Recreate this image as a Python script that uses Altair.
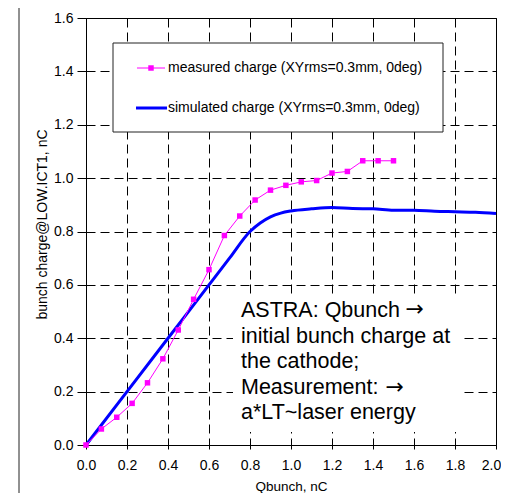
import altair as alt
import pandas as pd

# ---------------- data ----------------
meas_x = [0.0, 0.075, 0.15, 0.225, 0.3, 0.375, 0.45, 0.525, 0.6, 0.675, 0.75,
          0.825, 0.9, 0.975, 1.05, 1.125, 1.2, 1.275, 1.35, 1.425, 1.5]
meas_y = [0.0, 0.06, 0.104, 0.156, 0.233, 0.323, 0.431, 0.546, 0.657, 0.785, 0.858,
          0.918, 0.955, 0.973, 0.986, 0.991, 1.019, 1.025, 1.065, 1.065, 1.065]

sim_x = [0.0, 0.4, 0.6, 0.7, 0.8, 0.85, 0.9, 0.95, 1.0, 1.1, 1.2, 1.3, 1.4,
         1.5, 1.6, 1.7, 1.8, 1.9, 2.0]
sim_y = [0.0, 0.4, 0.6, 0.7, 0.8, 0.832, 0.855, 0.869, 0.877, 0.885, 0.890, 0.886,
         0.885, 0.880, 0.880, 0.876, 0.874, 0.872, 0.867]

x_ticks = [0.0, 0.2, 0.4, 0.6, 0.8, 1.0, 1.2, 1.4, 1.6, 1.8, 2.0]
y_ticks = [0.0, 0.2, 0.4, 0.6, 0.8, 1.0, 1.2, 1.4, 1.6]

legend_labels = ["measured charge (XYrms=0.3mm, 0deg)",
                 "simulated charge (XYrms=0.3mm, 0deg)"]
note_lines = ["ASTRA: Qbunch",
              "initial bunch charge at",
              "the cathode;",
              "Measurement:",
              "a*LT~laser energy"]
arrow = "\u2192"
x_title = "Qbunch, nC"
y_title = "bunch charge@LOW.ICT1, nC"

MAGENTA = "#FF00FF"
BLUE = "#0000FF"
FONT = "Liberation Sans"
W, H = 410, 427

meas = pd.DataFrame({"q": meas_x, "c": meas_y})
sim = pd.DataFrame({"q": sim_x, "c": sim_y})
one = pd.DataFrame({"a": [0]})

xs = alt.Scale(domain=[0, 2], nice=False, zero=False)
ys = alt.Scale(domain=[0, 1.6], nice=False, zero=False)

grid_common = dict(grid=True, gridColor="black", gridDash=[9, 5], gridWidth=1,
                   gridOpacity=1, domain=False, tickColor="black", tickWidth=1,
                   labelFont=FONT, labelFontSize=14, labelColor="black",
                   titleFont=FONT, titleFontWeight="normal", titleColor="black")

x_axis = alt.Axis(values=x_ticks, format=".1f", title=x_title, tickSize=4,
                  labelPadding=9, labelFlush=False,
                  labelOffset={"condition": {"test": "datum.value >= 1.99",
                                             "value": -5}, "value": 0},
                  titleFontSize=13.5,
                  titleY=41, titleBaseline="middle", **grid_common)
y_axis = alt.Axis(values=y_ticks, format=".1f", title=y_title, tickSize=9,
                  labelPadding=4, labelFlush=False, titleFontSize=14,
                  titleX=-44, titleY=206, titleBaseline="middle",
                  titleAlign="center", titleAngle=-90, **grid_common)

# outer frame (decoration)
frame = alt.Chart(one).mark_rect(fill=None, fillOpacity=0, stroke="#222",
                                 strokeWidth=1).encode(
    x=alt.value(-67), x2=alt.value(421), y=alt.value(-12), y2=alt.value(700))

sim_line = alt.Chart(sim).mark_line(color=BLUE, strokeWidth=3,
                                    interpolate="monotone").encode(
    x=alt.X("q:Q", scale=xs, axis=x_axis),
    y=alt.Y("c:Q", scale=ys, axis=y_axis))

meas_line = alt.Chart(meas).mark_line(color=MAGENTA, strokeWidth=1).encode(
    x=alt.X("q:Q", scale=xs), y=alt.Y("c:Q", scale=ys))
meas_pts = alt.Chart(meas).mark_point(shape="square", filled=True, size=30,
                                      color=MAGENTA, opacity=1).encode(
    x=alt.X("q:Q", scale=xs), y=alt.Y("c:Q", scale=ys))

# annotation with white background
note_bg = alt.Chart(one).mark_rect(fill="white", stroke=None).encode(
    x=alt.value(147), x2=alt.value(376), y=alt.value(279), y2=alt.value(414))
note = alt.Chart(one).mark_text(text=note_lines, lineHeight=25.6, align="left",
                                baseline="top", font=FONT, fontSize=21.5,
                                color="black").encode(
    x=alt.value(155), y=alt.value(282))
arrow1 = alt.Chart(one).mark_text(text=arrow, align="left", baseline="middle",
                                  font="DejaVu Sans", fontSize=22,
                                  color="black").encode(
    x=alt.value(319.5), y=alt.value(291))
arrow2 = alt.Chart(one).mark_text(text=arrow, align="left", baseline="middle",
                                  font="DejaVu Sans", fontSize=22,
                                  color="black").encode(
    x=alt.value(299.5), y=alt.value(369))

# legend box (decoration)
leg_bg = alt.Chart(one).mark_rect(fill="white", stroke="#222",
                                  strokeWidth=1).encode(
    x=alt.value(27), x2=alt.value(357), y=alt.value(25), y2=alt.value(114))
leg_r1 = alt.Chart(one).mark_rule(color=MAGENTA, strokeWidth=1).encode(
    x=alt.value(51), x2=alt.value(79), y=alt.value(50))
leg_p1 = alt.Chart(one).mark_point(shape="square", filled=True, size=30,
                                   color=MAGENTA, opacity=1).encode(
    x=alt.value(65), y=alt.value(50))
leg_r2 = alt.Chart(one).mark_rule(color=BLUE, strokeWidth=3).encode(
    x=alt.value(50), x2=alt.value(81), y=alt.value(90))
leg_t1 = alt.Chart(one).mark_text(text=legend_labels[0], align="left",
                                  baseline="middle", font=FONT, fontSize=14,
                                  color="black").encode(
    x=alt.value(82), y=alt.value(50))
leg_t2 = alt.Chart(one).mark_text(text=legend_labels[1], align="left",
                                  baseline="middle", font=FONT, fontSize=14,
                                  color="black").encode(
    x=alt.value(82), y=alt.value(90))

chart = alt.layer(
    sim_line, frame, note_bg, leg_bg, meas_line, meas_pts,
    note, arrow1, arrow2, leg_r1, leg_p1, leg_r2, leg_t1, leg_t2
).resolve_scale(x="shared", y="shared").properties(
    width=W, height=H,
    padding={"left": 78, "top": 10, "right": 5, "bottom": 48},
    autosize=alt.AutoSizeParams(type="none"),
    background="white",
).configure_view(stroke="black", strokeWidth=1)

chart.save("out.html", embed_options={"renderer": "svg", "actions": False})
